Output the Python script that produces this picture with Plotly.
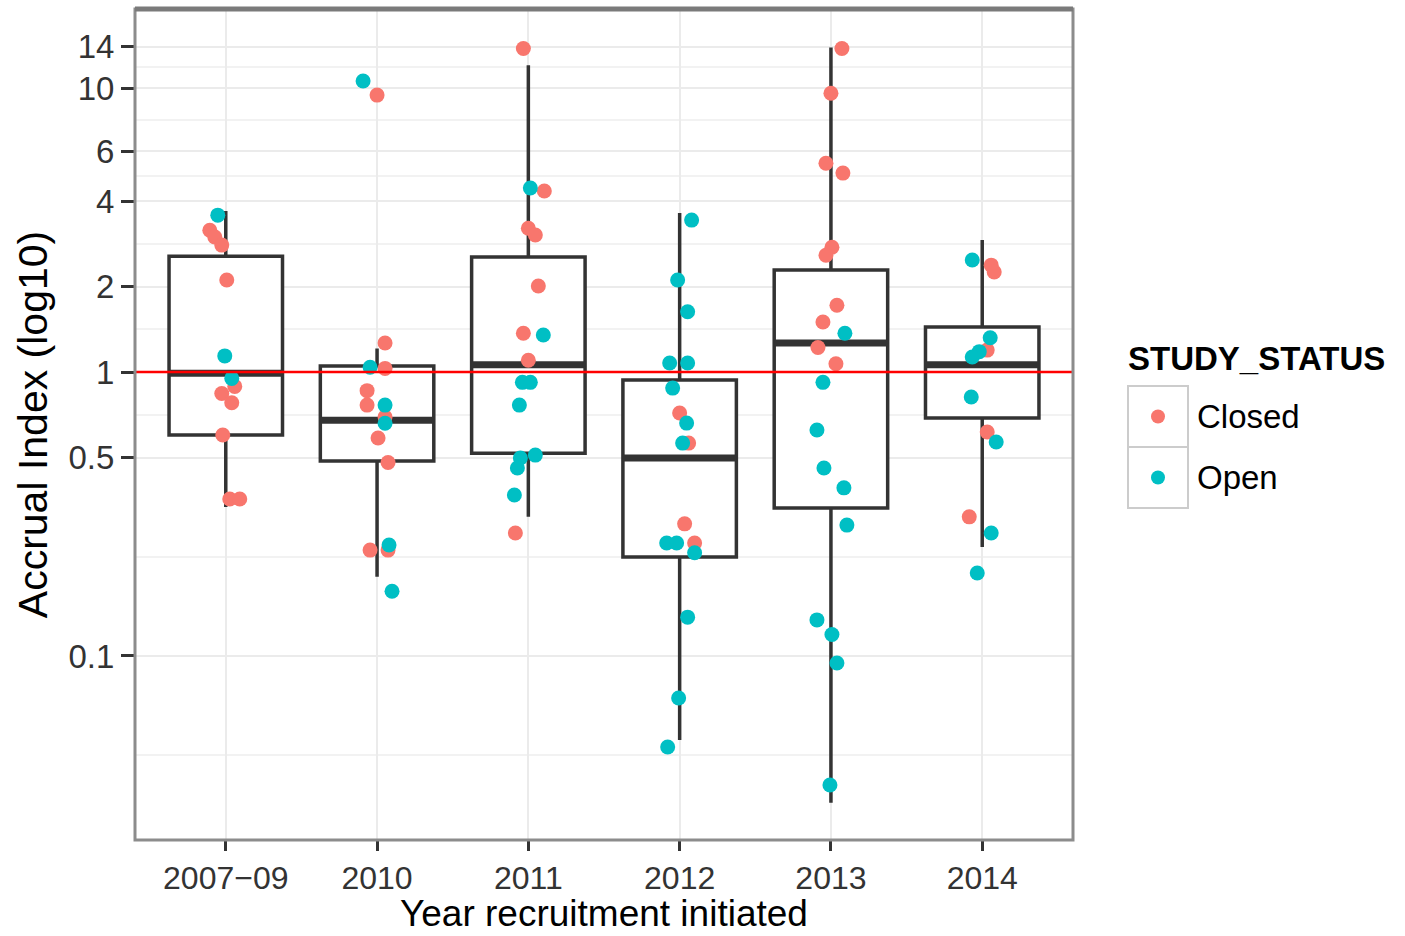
import math
import plotly.graph_objects as go

# ---- data -------------------------------------------------------------
years = ["2007\u221209", "2010", "2011", "2012", "2013", "2014"]

# box statistics per recruitment year (accrual index)
box_q1 = [0.600, 0.486, 0.518, 0.223, 0.332, 0.689]
box_median = [0.99, 0.677, 1.06, 0.498, 1.265, 1.06]
box_q3 = [2.56, 1.05, 2.54, 0.937, 2.29, 1.44]
box_lower = [0.335, 0.190, 0.309, 0.0506, 0.0304, 0.242]
box_upper = [3.69, 1.21, 12.05, 3.63, 13.9, 2.92]

# individual studies: year group, accrual index, horizontal jitter (px)
closed_year = (["2007\u221209"] * 10 + ["2010"] * 10 + ["2011"] * 8
               + ["2012"] * 4 + ["2013"] * 10 + ["2014"] * 5)
closed_value = [3.16, 2.99, 2.80, 2.11, 0.89, 0.84, 0.78, 0.60, 0.357, 0.357,
                9.45, 1.265, 1.03, 0.86, 0.765, 0.694, 0.586, 0.48, 0.236, 0.236,
                13.8, 4.34, 3.21, 3.04, 2.01, 1.37, 1.10, 0.271,
                0.717, 0.562, 0.292, 0.25,
                13.8, 9.6, 5.44, 5.02, 2.75, 2.58, 1.72, 1.50, 1.22, 1.07,
                2.38, 2.25, 1.195, 0.615, 0.309]
closed_jitter = [-16, -11, -4, 1, 9, -4, 6, -3, 4, 14,
                 0, 8, 8, -10, -10, 8, 1, 11, -7, 11,
                 -5, 16, 0, 7, 10, -5, 0, -13,
                 0, 9, 5, 15,
                 11, 0, -5, 12, 1, -5, 6, -8, -13, 5,
                 9, 12, 5, 5, -13]

open_year = (["2007\u221209"] * 3 + ["2010"] * 6 + ["2011"] * 9
             + ["2012"] * 14 + ["2013"] * 10 + ["2014"] * 8)
open_value = [3.57, 1.14, 0.95,
              10.6, 1.04, 0.765, 0.66, 0.246, 0.169,
              4.45, 1.35, 0.92, 0.92, 0.765, 0.498, 0.51, 0.459, 0.369,
              3.43, 2.11, 1.63, 1.076, 1.076, 0.878, 0.661, 0.562, 0.25, 0.25,
              0.231, 0.137, 0.0711, 0.0478,
              1.37, 0.92, 0.625, 0.459, 0.391, 0.289, 0.134, 0.119, 0.0945, 0.0351,
              2.48, 1.32, 1.18, 1.13, 0.817, 0.567, 0.271, 0.196]
open_jitter = [-8, -1, 6,
               -14, -7, 8, 8, 12, 15,
               2, 15, -6, 2, -9, -8, 7, -11, -14,
               12, -2, 8, -10, 8, -7, 7, 3, -13, -3, 15, 8, -1, -12,
               14, -8, -14, -7, 13, 16, -14, 1, 6, -1,
               -10, 8, -3, -10, -11, 14, 9, -5]

y_ticks = [0.1, 0.5, 1, 2, 4, 6, 10, 14]
y_tick_text = ["0.1", "0.5", "1", "2", "4", "6", "10", "14"]

# ---- styling ------------------------------------------------------------
FONT = "Liberation Sans, Arial, sans-serif"
RED = "#F8766D"
CYAN = "#00BFC4"
BOX_LINE = "#333333"
PX_PER_UNIT = 151.6      # horizontal pixels per category step
BOX_WIDTH = 0.75

L, R, T, B = 135, 332, 9, 96
W, H = 1405, 936
pw, ph = W - L - R, H - T - B

xpos = {y: i for i, y in enumerate(years)}


def px_x(px):
    return (px - L) / pw


def px_y(py):
    return (H - B - py) / ph


fig = go.Figure()

# boxes (no whisker caps)
for i, yr in enumerate(years):
    fig.add_trace(go.Box(
        x=[i], q1=[box_q1[i]], median=[box_median[i]], q3=[box_q3[i]],
        lowerfence=[box_lower[i]], upperfence=[box_upper[i]],
        width=BOX_WIDTH, whiskerwidth=0, fillcolor="white",
        line=dict(color=BOX_LINE, width=3.5),
        boxpoints=False, showlegend=False, hoverinfo="skip",
    ))
    # heavier median bar
    fig.add_trace(go.Scatter(
        x=[i - BOX_WIDTH / 2, i + BOX_WIDTH / 2],
        y=[box_median[i], box_median[i]],
        mode="lines", line=dict(color=BOX_LINE, width=7),
        showlegend=False, hoverinfo="skip",
    ))

# jittered study points
for name, yrs, vals, jit, col in [
    ("Closed", closed_year, closed_value, closed_jitter, RED),
    ("Open", open_year, open_value, open_jitter, CYAN),
]:
    fig.add_trace(go.Scatter(
        x=[xpos[y] + j / PX_PER_UNIT for y, j in zip(yrs, jit)],
        y=vals, mode="markers", name=name,
        marker=dict(color=col, size=15, line=dict(width=0)),
        showlegend=False,
    ))

# reference line at index 1
fig.add_trace(go.Scatter(
    x=[-0.6, len(years) - 0.4], y=[1, 1], mode="lines",
    line=dict(color="red", width=2.5), showlegend=False, hoverinfo="skip",
))

# minor gridlines halfway (in log space) between major breaks
minor_vals = [0.1 / math.sqrt(5)] + [
    math.sqrt(a * b) for a, b in zip(y_ticks[:-1], y_ticks[1:])
]

fig.update_layout(
    width=W, height=H,
    margin=dict(l=L, r=R, t=T, b=B),
    paper_bgcolor="white", plot_bgcolor="white",
    font=dict(family=FONT, color="#000000"),
    xaxis=dict(
        range=[-0.6, len(years) - 0.4],
        tickmode="array", tickvals=list(range(len(years))), ticktext=years,
        showgrid=True, gridcolor="#ebebeb", gridwidth=2,
        zeroline=False, showline=False, automargin=False,
        ticks="outside", ticklen=10, tickwidth=3, tickcolor="#333333",
        tickfont=dict(size=32, color="#333333", family=FONT),
    ),
    yaxis=dict(
        type="log",
        range=[math.log10(0.02248), math.log10(19.0)],
        tickmode="array", tickvals=y_ticks, ticktext=y_tick_text,
        showgrid=True, gridcolor="#ebebeb", gridwidth=2,
        minor=dict(tickmode="array", tickvals=minor_vals, showgrid=True,
                   gridcolor="#f2f2f2", gridwidth=2, ticks=""),
        zeroline=False, showline=False, automargin=False,
        ticks="outside", ticklen=13, tickwidth=3, tickcolor="#333333",
        tickfont=dict(size=33, color="#333333", family=FONT),
        title=dict(text="Accrual Index (log10)",
                   font=dict(size=41, color="#000000", family=FONT), standoff=8),
    ),
)

shapes = [
    # panel border
    dict(type="rect", xref="paper", yref="paper", x0=0, x1=1, y0=0, y1=1,
         line=dict(color="#8c8c8c", width=3), layer="above"),
    dict(type="line", xref="paper", yref="paper", x0=0, x1=1, y0=1, y1=1,
         line=dict(color="#7a7a7a", width=5), layer="above"),
]

# legend: key boxes and dots
key_x0, key_x1 = 1128, 1188
for (ky0, ky1), col in [((386, 447), RED), ((447, 508), CYAN)]:
    shapes.append(dict(type="rect", xref="paper", yref="paper",
                       x0=px_x(key_x0), x1=px_x(key_x1),
                       y0=px_y(ky1), y1=px_y(ky0),
                       line=dict(color="#cccccc", width=2), fillcolor="white"))
    cy = (ky0 + ky1) / 2
    shapes.append(dict(type="circle", xref="paper", yref="paper",
                       xsizemode="pixel", ysizemode="pixel",
                       xanchor=px_x((key_x0 + key_x1) / 2), yanchor=px_y(cy),
                       x0=-7, x1=7, y0=-7, y1=7,
                       fillcolor=col, line=dict(width=0)))
fig.update_layout(shapes=shapes)

annotations = [
    # x-axis title, sitting on the bottom edge of the page
    dict(text="Year recruitment initiated", xref="paper", yref="paper",
         x=0.5, y=px_y(936), xanchor="center", yanchor="bottom",
         showarrow=False, font=dict(size=37, color="#000000", family=FONT)),
    # legend text
    dict(text="<b>STUDY_STATUS</b>", xref="paper", yref="paper",
         x=px_x(1126), y=px_y(358), xanchor="left", yanchor="middle",
         showarrow=False, font=dict(size=33, color="#000000", family=FONT)),
    dict(text="Closed", xref="paper", yref="paper",
         x=px_x(1195), y=px_y(416), xanchor="left", yanchor="middle",
         showarrow=False, font=dict(size=33, color="#000000", family=FONT)),
    dict(text="Open", xref="paper", yref="paper",
         x=px_x(1195), y=px_y(477), xanchor="left", yanchor="middle",
         showarrow=False, font=dict(size=33, color="#000000", family=FONT)),
]
fig.update_layout(annotations=annotations)

fig.write_html("out.html")
